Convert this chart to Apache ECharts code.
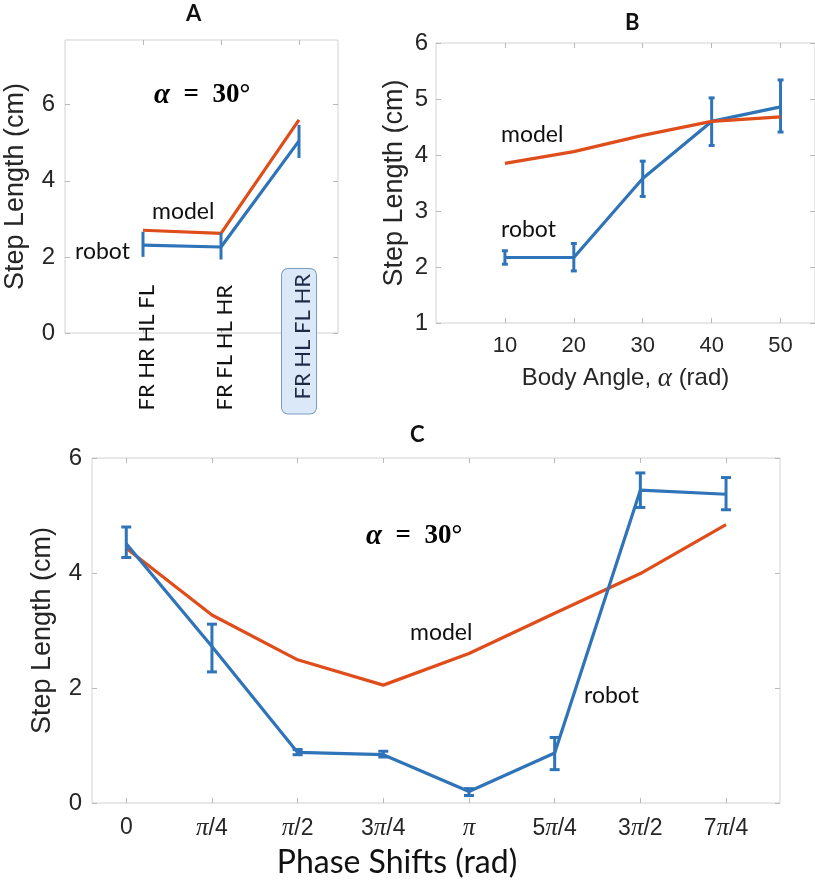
<!DOCTYPE html>
<html>
<head>
<meta charset="utf-8">
<script src="https://cdn.jsdelivr.net/npm/echarts@6/dist/echarts.min.js"></script>
<style>
html,body{margin:0;padding:0;background:#fff;}
#chart{width:815px;height:885px;}
</style>
</head>
<body>
<div id="chart"></div>
<script>
// ---------- Panel A ----------
const aCats = ['FR HR HL FL', 'FR FL HL HR', 'FR HL FL HR'];
const aX = [1, 2, 3];
const aModel = [2.7, 2.62, 5.6];
const aRobot = [2.31, 2.26, 5.05];
const aRobotLow = [2.0, 1.93, 4.6];
const aRobotHigh = [2.66, 2.63, 5.47];
const aYTicks = [0, 2, 4, 6];

// ---------- Panel B ----------
const bAngles = [10, 20, 30, 40, 50];
const bModel = [3.85, 4.06, 4.35, 4.6, 4.68];
const bRobot = [2.17, 2.17, 3.58, 4.6, 4.86];
const bRobotLow = [2.05, 1.93, 3.26, 4.17, 4.41];
const bRobotHigh = [2.29, 2.42, 3.89, 5.02, 5.34];
const bYTicks = [1, 2, 3, 4, 5, 6];

// ---------- Panel C ----------
const cLabels = ['0', 'π/4', 'π/2', '3π/4', 'π', '5π/4', '3π/2', '7π/4'];
const cX = [0, 1, 2, 3, 4, 5, 6, 7];
const cModel = [4.43, 3.27, 2.49, 2.05, 2.6, 3.3, 3.99, 4.84];
const cRobot = [4.51, 2.72, 0.88, 0.84, 0.2, 0.87, 5.44, 5.37];
const cRobotLow = [4.27, 2.28, 0.84, 0.8, 0.13, 0.58, 5.14, 5.1];
const cRobotHigh = [4.8, 3.11, 0.93, 0.9, 0.25, 1.14, 5.74, 5.66];
const cYTicks = [0, 2, 4, 6];

const BLUE = '#2f74b8';
const ORANGE = '#df4d1b';
const GRIDC = '#d2d2d2';
const TICKC = '#b8b8b8';
const TXT = '#262626';
const SANS = '"Liberation Sans", Arial, sans-serif';
const CAL = 'Lato, "Open Sans", sans-serif';
const SERIF = '"Liberation Serif", "DejaVu Serif", serif';

const chart = echarts.init(document.getElementById('chart'), null, {renderer: 'canvas'});

function zip(xs, ys) { return xs.map((x, i) => [x, ys[i]]); }
function zip3(xs, lo, hi) { return xs.map((x, i) => [x, lo[i], hi[i]]); }

function errSeries(idx, data, cap) {
  return {
    type: 'custom', xAxisIndex: idx * 2, yAxisIndex: idx * 2, z: 3,
    data: data, encode: {x: 0, y: [1, 2]},
    renderItem: function (params, api) {
      const x = api.value(0), lo = api.value(1), hi = api.value(2);
      const p1 = api.coord([x, lo]), p2 = api.coord([x, hi]);
      const st = {stroke: BLUE, lineWidth: 3};
      const ch = [{type: 'line', shape: {x1: p1[0], y1: p1[1], x2: p2[0], y2: p2[1]}, style: st}];
      if (cap > 0) {
        ch.push({type: 'line', shape: {x1: p1[0] - cap, y1: p1[1], x2: p1[0] + cap, y2: p1[1]}, style: st});
        ch.push({type: 'line', shape: {x1: p2[0] - cap, y1: p2[1], x2: p2[0] + cap, y2: p2[1]}, style: st});
      }
      return {type: 'group', children: ch};
    }
  };
}

function xAxes(gi, min, max, ticks, labelCfg, nameCfg) {
  const bottom = Object.assign({
    type: 'value', gridIndex: gi, min: min, max: max, position: 'bottom',
    axisLine: {show: false, onZero: false},
    axisTick: {show: true, inside: true, length: 5, customValues: ticks, lineStyle: {color: TICKC}},
    splitLine: {show: false},
    axisLabel: Object.assign({customValues: ticks, color: TXT, fontFamily: SANS, fontSize: 22}, labelCfg)
  }, nameCfg || {});
  const top = {
    type: 'value', gridIndex: gi, min: min, max: max, position: 'top',
    axisLine: {show: false, onZero: false},
    axisTick: {show: true, inside: true, length: 5, customValues: ticks, lineStyle: {color: TICKC}},
    splitLine: {show: false}, axisLabel: {show: false}
  };
  return [bottom, top];
}
function yAxes(gi, min, max, ticks, nameGap, margin) {
  const left = {
    type: 'value', gridIndex: gi, min: min, max: max, position: 'left',
    axisLine: {show: false, onZero: false},
    axisTick: {show: true, inside: true, length: 5, customValues: ticks, lineStyle: {color: TICKC}},
    splitLine: {show: false},
    axisLabel: {customValues: ticks, color: TXT, fontFamily: SANS, fontSize: 24, margin: margin},
    name: 'Step Length (cm)', nameLocation: 'middle', nameGap: nameGap,
    nameTextStyle: {color: TXT, fontFamily: SANS, fontSize: 27}
  };
  const right = {
    type: 'value', gridIndex: gi, min: min, max: max, position: 'right',
    axisLine: {show: false, onZero: false},
    axisTick: {show: true, inside: true, length: 5, customValues: ticks, lineStyle: {color: TICKC}},
    splitLine: {show: false}, axisLabel: {show: false}
  };
  return [left, right];
}

const gridBase = {show: true, borderColor: GRIDC, borderWidth: 1, backgroundColor: 'transparent', containLabel: false};

const xA = xAxes(0, 0, 3.5, aX, {
  rotate: 90, margin: -64, fontFamily: CAL, fontSize: 22, color: '#111',
  formatter: function (v) {
    const i = Math.round(v) - 1;
    if (i === 2) return '{hl|' + aCats[i] + '}';
    return '{n|' + aCats[i] + '}';
  },
  rich: {
    n: {fontFamily: CAL, fontSize: 22, color: '#111', padding: [8, 16, 0, 0]},
    hl: {fontFamily: CAL, fontSize: 22, color: '#1d2a44', backgroundColor: '#dbe8f7',
         borderColor: '#7c9cc4', borderWidth: 1, borderRadius: 6, padding: [10, 5, 2, 14]}
  }
});
const xB = xAxes(1, 0, 55, bAngles, {margin: 12}, {
  name: '{n|Body Angle, }{a|α}{n| (rad)}', nameLocation: 'middle', nameGap: 42,
  nameTextStyle: {rich: {
    n: {color: TXT, fontFamily: SANS, fontSize: 24},
    a: {color: TXT, fontFamily: SERIF, fontStyle: 'italic', fontSize: 27}
  }}
});
const xC = xAxes(2, -0.4, 7.63, cX, {
  margin: 13,
  formatter: function (v) {
    const s = cLabels[Math.round(v)];
    return s.split('π').map(p => p ? '{n|' + p + '}' : '').join('{p|π}');
  },
  rich: {
    n: {color: TXT, fontFamily: SANS, fontSize: 23},
    p: {color: TXT, fontFamily: SERIF, fontStyle: 'italic', fontSize: 25}
  }
}, {
  name: 'Phase Shifts (rad)', nameLocation: 'middle', nameGap: 44,
  nameTextStyle: {color: '#111', fontFamily: CAL, fontSize: 32, padding: [0, 78, 0, 0]}
});

const yA = yAxes(0, 0, 7.7, aYTicks, 36, 10);
const yB = yAxes(1, 1, 6, bYTicks, 28, 8);
const yC = yAxes(2, 0, 6, cYTicks, 36, 10);

function lineS(idx, data, color, z) {
  return {type: 'line', xAxisIndex: idx * 2, yAxisIndex: idx * 2, data: data, symbol: 'none',
    lineStyle: {color: color, width: 3.2}, z: z, animation: false};
}

const alphaRich = {
  a: {fontFamily: SERIF, fontStyle: 'italic', fontWeight: 'bold', fontSize: 29, color: '#111'},
  t: {fontFamily: SERIF, fontWeight: 'bold', fontSize: 27, color: '#111'}
};
function txt(x, y, s, style) {
  return {type: 'text', left: x, top: y, style: Object.assign({text: s, fill: '#111'}, style)};
}
const capStyle = {font: 'bold 22px ' + CAL, fill: '#111'};
const annStyle = {font: '23px ' + CAL, fill: '#111'};

chart.setOption({
  animation: false,
  backgroundColor: '#fff',
  grid: [
    Object.assign({left: 65, top: 40, width: 273, height: 293}, gridBase),
    Object.assign({left: 436, top: 43, width: 384, height: 280}, gridBase),
    Object.assign({left: 92, top: 458, width: 688, height: 345}, gridBase)
  ],
  xAxis: [].concat(xA, xB, xC),
  yAxis: [].concat(yA, yB, yC),
  series: [
    lineS(0, zip(aX, aModel), ORANGE, 2),
    lineS(0, zip(aX, aRobot), BLUE, 2),
    errSeries(0, zip3(aX, aRobotLow, aRobotHigh), 0),
    lineS(1, zip(bAngles, bRobot), BLUE, 2),
    errSeries(1, zip3(bAngles, bRobotLow, bRobotHigh), 3),
    lineS(1, zip(bAngles, bModel), ORANGE, 4),
    lineS(2, zip(cX, cModel), ORANGE, 2),
    lineS(2, zip(cX, cRobot), BLUE, 3),
    errSeries(2, zip3(cX, cRobotLow, cRobotHigh), 5)
  ],
  graphic: [
    txt(186, 3, 'A', capStyle),
    txt(625, 12, 'B', capStyle),
    txt(410, 424, 'C', capStyle),
    {type: 'text', left: 154, top: 81, style: {text: '{a|α}{t|  =  30°}', rich: alphaRich}},
    {type: 'text', left: 366, top: 522, style: {text: '{a|α}{t|  =  30°}', rich: alphaRich}},
    txt(152, 200, 'model', annStyle),
    txt(75, 240, 'robot', annStyle),
    txt(501, 123, 'model', annStyle),
    txt(501, 218, 'robot', annStyle),
    txt(410, 621, 'model', annStyle),
    txt(584, 684, 'robot', annStyle)
  ]
});
</script>
</body>
</html>
